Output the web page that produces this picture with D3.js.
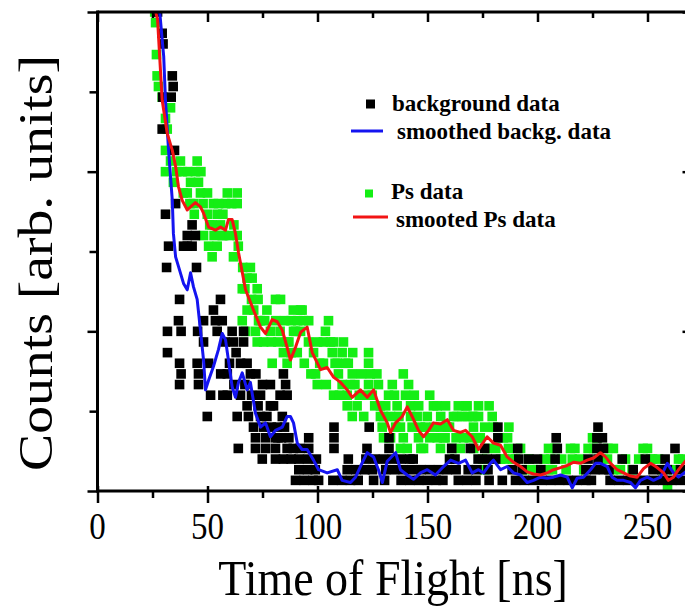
<!DOCTYPE html>
<html><head><meta charset="utf-8">
<script src="https://cdn.jsdelivr.net/npm/d3@7"></script>
<style>body{margin:0;background:#fff}svg{display:block}</style>
</head><body>
<svg id="c" width="685" height="608"></svg>
<script>
// ---- ticks ----
const xTicksMajor = [0, 50, 100, 150, 200, 250];
const xTicksMinor = [25, 75, 125, 175, 225];
const yTicksMajor = [0, 15, 30, 45];
const yTicksMinor = [7.5, 22.5, 37.5];

// ---- legend / titles ----
const xTitle = "Time of Flight [ns]";
const yTitle = "Counts [arb. units]";
const legendLabels = ["background data", "smoothed backg. data", "Ps data", "smooted Ps data"];

// ---- background data [time ns, counts] ----
const bgPoints = [
[27.3,45],[29.4,43],[29.8,42],[29.6,37],[29.4,34],[30.9,26],[31.4,21],[31.8,15],[31.8,13],[32.3,23],
[33.5,37],[34.0,39],[34.4,38],[35.0,32],[35.5,27],[36.8,16],[37.3,18],[37.3,12],[37.3,10],[38.0,15],
[38.0,11],[39.1,23],[40.8,24],[40.8,23],[43.0,25],[43.0,23],[44.5,24],[45.0,21],[45.5,15],[45.3,12],
[45.9,11],[45.9,10],[48.2,16],[48.2,14],[49.9,7],[50.5,12],[51.4,9],[52.7,17],[53.6,16],[54.4,15],
[55.9,18],[56.7,16],[59.0,11],[59.0,9],[61.2,15],[61.8,14],[63.5,7],[64.0,4],[65.0,12],[65.0,9],
[66.4,15],[66.4,14],[68.0,12],[68.6,7],[69.5,11],[70.9,6],[71.8,5],[71.8,4],[74.1,9],[74.1,7],
[74.9,3],[75.5,6],[76.4,5],[76.4,4],[78.6,10],[78.6,8],[80.9,5],[80.9,4],[80.9,3],[81.7,6],
[83.6,5],[84.0,7],[84.5,11],[85.5,10],[86.2,9],[86.2,4],[84.5,3],
[56,11],[57,9],[58,14],[60,12],[62,10],[63,13],[67,10],[68,8],[70,9],[72,11],[73,8],[75,10],
[77,7],[79,6],[80,8],[82,5],[83,9],[85,6],[87,5],[88,3],[89,4],
// count 1 row
[90,1],[94,1],[98,1],[100.5,1],[107,1],[111,1],[115,1],[118.5,1],[125.5,1],[130.5,1],[138,1],[142,1],
[146,1],[150,1],[154,1],[157,1],[164,1],[168,1],[172,1],[178,1],[184,1],[190,1],[194,1],[198,1],[202,1],
[206,1],[210,1],[214,1],[218,1],[222,1],[224.5,1],[233,1],[237,1],[241,1],[245,1],[249,1],[253,1],
[257,1],[261,1],[265,1],
// count 2 row
[91.5,2],[95.5,2],[99,2],[113.5,2],[117.5,2],[121.5,2],[125,2],[131,2],[135,2],[139,2],[143,2],[147,2],
[151,2],[155,2],[159,2],[163,2],[168.5,2],[172.5,2],[177.5,2],[188.5,2],[193,2],[201.5,2],[222,2],
[226,2],[230,2],[232.5,2],[243.5,2],[252.5,2],[256.5,2],[259,2],[265,2],
// count 3 row
[91.5,3],[95.5,3],[99.5,3],[114,3],[122,3],[126,3],[130,3],[134,3],[138,3],[142,3],[143.5,3],[160,3],
[162.5,3],[173,3],[177,3],[181,3],[191.5,3],[196,3],[200,3],[208,3],[223,3],[227.5,3],[238.5,3],
[249,3],[258,3],
// higher counts
[92,4],[96,4],[107.5,4],[122.5,4],[132.5,4],[161,4],[169.5,4],[176,4],[191,4],[209,4],[227,4],[230,4],[262.5,4],
[96,5],[107.5,5],[132.5,5],[182,5],[208.5,5],[227,5],[229.5,5],
[107.5,6],[123.5,6],[182,6],[227.5,6]
];

// ---- Ps data [time ns, counts] ----
const psPoints = [
[26.0,45],[26.4,44],[26.8,41],[27.1,39],[27.7,38],[29.4,37],[33.2,36],[30.9,35],[31.7,34],[30.9,32],
[33.2,31],[30.9,30],[34.5,29],[37.7,31],[38.6,30],[45.3,31],[44.5,30],[42.3,29],[45.9,29],[40.8,28],
[43.6,27],[46.8,28],[52.7,27],[49.9,26],[54.4,26],[52.1,25],[59.0,28],[58.2,27],[63.5,28],[63.5,27],
[57.3,24],[63.5,24],[48.2,24],[50.5,23],[55.9,25],[54.4,23],[56.7,24],[52.1,22],[61.8,22],[69.5,21],
[70.3,20],[65.8,19],[72.6,19],[80.9,18],[83.2,18],[65.8,16],[67.3,15],[68.0,17],[71.8,15],[73.2,16],
[75.5,14],[72.6,14],[76.0,16],[78.6,15],[79.4,12],[82.0,14],[84.5,13],[86.2,12],[87.0,14],[88.0,16],
[89.1,15],[90.0,15],[90.8,13],[92.3,15],[92.3,17],[93.0,17],[93.6,16],[95.9,14],[98.2,13],[99.1,11],
[99.9,10],[102.7,14],[102.7,12],[103.6,15],[105.9,14],[106.7,13],[107.3,14],[107.3,9],[109.0,12],[109.5,11],
[111.2,13],[111.2,10],[111.8,14],[112.7,12],[113.5,9],[113.5,8],[115.0,10],[115.8,11],[115.8,7],[118.0,8],
[123.2,13],[123.2,12],[124.0,11],[123.2,10],[124.9,9],[127.7,10],[128.6,8],[128.6,7],[129.4,6],[130.0,7],
[130.0,5],[132.3,9],[133.2,7],[133.2,5],[135.5,6],[136.2,8],[137.7,6],[137.7,4],[140.0,9],[140.8,4],
[141.4,10],[142.3,8],[142.3,7],[143.0,6],[145.3,7],[145.9,5],[146.8,6],[148.2,4],[149.9,7],[152.7,8],
[154.4,8],[154.4,5],[155.9,6],[155.9,4],[157.3,5],[158.2,8],[159.0,6],[161.8,7],[163.5,7],[165.0,4],
[165.8,7],[166.4,5],[167.3,8],[168.0,8],[168.0,7],[170.3,7],[170.9,6],[170.9,7],[172.6,5],[173.2,8],
[173.2,7],[173.2,5],[174.0,5],[175.0,3],[176.0,2],[179.4,7],[180.0,6],[183.2,3],[184.5,5],[186.4,5],
[186.8,4],[188.6,3],[192.3,4],[205.0,4],[205.9,3],[205.0,2],[206.8,2],[215.0,4],[215.8,3],[225.0,5],
[225.5,4],[227.3,5],[231.8,3],[234.5,4],[234.5,2],[237.7,2],[250.0,4],[251.4,3],[252.3,3],[259.1,0.4],
[264.1,3],
[36,30],[39,28],[41,30],[42,27],[44,26],[47,30],[48,27],[50,28],[51,25],[53,24],[55,27],[57,26],
[60,24],[61,27],[62,25],[64,23],[66,21],[67,19],[68,20],[70,18],[71,17],[73,18],[74,16],[77,17],
[79,14],[81,16],[83,15],[85,16],[86,14],[88,13],[89,17],[91,16],
[94,12],[96,16],[97,11],[100,14],[101,12],[104,10],[105,16],[108,12],[110,9],[114,12],[116,13],[117,10],
[119,9],[120,11],[121,7],[122,9],[126,8],[127,11],[131,8],[134,10],[135,9],[137,7],[139,5],[139,11],
[144,9],[146,8],[147,4],[149,6],[151,5],[151,9],[153,6],[156,7],[158,5],[160,6],[161,4],[163,5],
[164,8],[169,5],[171,4],[176,6],[177,4],[178,8],[181,4],[182,5],[185,3],[187,6],[190,3],[194,2],
[196,3],[198,2],[200,2],[203,3],[208,4],[211,3],[213,2],[217,4],[219,3],[221,2],[223,4],[229,3],
[232,4],[240,3],[243,2],[246,3],[248,4],[255,3],[257,2],[262,2],[266,3]
];

// ---- smoothed background [time ns, counts] ----
const bgSmooth = [
[28.0,46.5],[28.2,45.2],[30.1,40.8],[30.9,36.7],[32.3,32.0],[34.0,27.3],[34.5,24.2],[35.5,22.0],[36.8,21.1],
[39.1,19.5],[40.8,18.9],[42.3,20.5],[43.6,19.2],[45.3,18.0],[46.8,15.1],[48.2,12.3],[49.1,9.5],[50.5,10.4],
[52.7,11.7],[55.0,13.3],[56.7,14.8],[58.2,14.2],[59.5,12.3],[61.2,9.8],[62.7,8.8],[64.1,10.2],[65.8,11.1],
[68.0,9.5],[69.5,10.2],[71.8,7.3],[74.1,6.0],[76.4,6.4],[78.6,5.1],[80.9,5.7],[84.0,6.0],[86.2,7.0],
[87.7,7.0],[89.1,6.4],[90.8,4.5],[93.0,3.9],[95.3,3.9],[98.2,2.9],[100.5,2.0],[104.4,1.7],[109.0,2.0],
[111.2,1.0],[115.0,0.8],[117.3,1.3],[119.5,2.3],[122.6,3.6],[125.5,3.2],[127.7,2.0],[129.5,0.8],[131.7,2.8],
[135.5,3.6],[137.7,2.0],[140.8,1.5],[143.6,1.1],[146.8,1.7],[149.9,2.0],[153.6,1.5],[157.3,2.3],[160.5,2.9],
[164.1,2.6],[167.3,2.9],[170.3,1.7],[173.2,2.0],[175.5,1.7],[178.6,2.6],[180.0,2.9],[183.2,2.0],[186.2,2.3],
[189.1,1.7],[192.3,1.5],[195.3,0.8],[198.2,1.0],[201.4,1.3],[204.4,1.2],[207.3,1.3],[210.5,1.5],[213.5,1.3],
[215.8,0.3],[218.0,1.2],[220.9,1.3],[224.1,2.0],[226.4,2.6],[228.6,2.6],[231.7,2.3],[233.9,1.3],[236.2,1.0],
[239.1,1.0],[242.3,0.8],[244.5,0.3],[246.8,1.0],[249.9,1.3],[252.7,1.0],[255.9,1.3],[259.0,2.6],[261.8,1.7],
[264.1,1.3],[267.3,1.8],[269.5,2.0]
];

// ---- smoothed Ps [time ns, counts] ----
const psSmooth = [
[25.5,46.5],[26.4,45.0],[27.3,44.3],[29.4,36.7],[31.7,33.6],[34.0,32.0],[35.5,30.5],[36.8,28.6],[38.5,27.3],
[40.8,26.4],[42.3,26.7],[44.5,27.1],[46.8,26.7],[48.2,26.1],[50.5,24.8],[53.6,24.5],[55.9,24.8],[58.2,24.5],
[59.5,25.5],[61.2,25.5],[62.7,24.2],[64.1,22.4],[67.3,18.9],[70.9,17.0],[74.1,15.4],[76.4,14.8],[79.4,16.1],
[81.7,15.9],[84.0,15.1],[86.2,13.5],[87.7,12.3],[90.0,13.5],[92.3,14.9],[95.3,15.4],[97.6,13.0],[101.4,11.4],
[104.4,11.6],[107.3,10.7],[110.5,10.2],[113.5,9.5],[115.8,8.8],[119.5,9.5],[122.6,8.8],[125.5,9.5],[128.6,7.6],
[131.7,6.4],[133.2,5.5],[135.5,6.4],[138.5,7.0],[140.8,7.9],[143.0,7.0],[145.9,5.7],[148.2,5.1],[150.5,5.7],
[152.7,6.4],[155.9,6.3],[159.0,6.7],[161.8,5.7],[165.0,5.5],[167.3,5.7],[170.3,5.1],[173.2,3.9],[177.1,5.1],
[180.0,4.5],[183.2,4.3],[186.2,3.2],[189.1,2.7],[192.3,2.3],[195.3,1.8],[198.2,1.6],[201.4,1.5],[204.4,1.7],
[207.3,2.0],[210.5,2.2],[213.5,2.4],[216.4,2.7],[219.5,2.6],[222.6,2.9],[225.5,3.1],[228.6,3.6],[230.9,3.2],
[233.2,2.6],[236.2,2.0],[239.1,1.7],[242.3,1.4],[245.3,1.3],[248.2,2.1],[251.4,2.6],[254.4,2.2],[257.3,1.7],
[259.5,1.0],[261.8,1.3],[264.1,2.0],[266.4,2.6],[269.5,3.4]
];

// ---- drawing ----
const svg = d3.select('#c');
const x = d3.scaleLinear().domain([0, 270]).range([97.5, 691.5]);
const y = d3.scaleLinear().domain([0, 45]).range([491, 12]);
const serif = '"Liberation Serif","Times New Roman",serif';
const colBlack = '#000000', colGreen = '#14ee14', colBlue = '#1414f0', colRed = '#f21414';
const sq = 9.6;

svg.append('defs').append('clipPath').attr('id', 'plotclip')
  .append('rect').attr('x', x(0)).attr('y', y(45)).attr('width', x(270) - x(0)).attr('height', y(0) - y(45));

const plot = svg.append('g').attr('clip-path', 'url(#plotclip)');

plot.append('g').selectAll('rect').data(psPoints).join('rect')
  .attr('x', d => x(d[0]) - sq / 2).attr('y', d => y(d[1]) - sq / 2)
  .attr('width', sq).attr('height', sq).attr('fill', colGreen);

plot.append('g').selectAll('rect').data(bgPoints).join('rect')
  .attr('x', d => x(d[0]) - sq / 2).attr('y', d => y(d[1]) - sq / 2)
  .attr('width', sq).attr('height', sq).attr('fill', colBlack);

const line = d3.line().x(d => x(d[0])).y(d => y(d[1]));
plot.append('path').datum(bgSmooth).attr('d', line).attr('fill', 'none')
  .attr('stroke', colBlue).attr('stroke-width', 3).attr('stroke-linejoin', 'round');
plot.append('path').datum(psSmooth).attr('d', line).attr('fill', 'none')
  .attr('stroke', colRed).attr('stroke-width', 3).attr('stroke-linejoin', 'round');

// ---- axes ----
function clean(g, w) {
  g.select('path.domain').remove();
  g.selectAll('text').remove();
  g.selectAll('line').attr('stroke', '#000').attr('stroke-width', w);
}
svg.append('g').attr('transform', `translate(0,${y(0)})`)
  .call(d3.axisBottom(x).tickValues(xTicksMajor).tickSize(12)).call(g => clean(g, 2.5));
svg.append('g').attr('transform', `translate(0,${y(0)})`)
  .call(d3.axisTop(x).tickValues(xTicksMajor).tickSize(5)).call(g => clean(g, 2.5));
svg.append('g').attr('transform', `translate(0,${y(0)})`)
  .call(d3.axisBottom(x).tickValues(xTicksMinor).tickSize(7)).call(g => clean(g, 2.5));
svg.append('g').attr('transform', `translate(0,${y(45)})`)
  .call(d3.axisBottom(x).tickValues(xTicksMajor).tickSize(10)).call(g => clean(g, 2.5));
svg.append('g').attr('transform', `translate(0,${y(45)})`)
  .call(d3.axisBottom(x).tickValues(xTicksMinor).tickSize(6)).call(g => clean(g, 2.5));
svg.append('g').attr('transform', `translate(${x(0)},0)`)
  .call(d3.axisLeft(y).tickValues(yTicksMajor).tickSize(10)).call(g => clean(g, 2.5));
svg.append('g').attr('transform', `translate(${x(0)},0)`)
  .call(d3.axisLeft(y).tickValues(yTicksMinor).tickSize(8)).call(g => clean(g, 2.5));
svg.append('g').attr('transform', `translate(${x(270)},0)`)
  .call(d3.axisLeft(y).tickValues(yTicksMajor).tickSize(9)).call(g => clean(g, 2.5));
svg.append('g').attr('transform', `translate(${x(270)},0)`)
  .call(d3.axisLeft(y).tickValues(yTicksMinor).tickSize(6)).call(g => clean(g, 2.5));

const frame = svg.append('g').attr('stroke', '#000').attr('stroke-width', 3).attr('fill', 'none');
frame.append('line').attr('x1', x(0)).attr('x2', x(0)).attr('y1', y(45) - 1.5).attr('y2', y(0) + 1.5);
frame.append('line').attr('x1', x(270)).attr('x2', x(270)).attr('y1', y(45) - 1.5).attr('y2', y(0) + 1.5);
frame.append('line').attr('x1', x(0)).attr('x2', x(270)).attr('y1', y(45)).attr('y2', y(45));
frame.append('line').attr('x1', x(0)).attr('x2', x(270)).attr('y1', y(0)).attr('y2', y(0));

svg.append('g').selectAll('text').data(xTicksMajor).join('text')
  .attr('transform', d => `translate(${x(d)},539) scale(1,1.17)`)
  .attr('text-anchor', 'middle').style('font-family', serif).style('font-size', '33px')
  .attr('fill', '#000').text(d => d);

svg.append('text').attr('transform', 'translate(393,595) scale(1,1.09)')
  .attr('text-anchor', 'middle').style('font-family', serif).style('font-size', '46px')
  .attr('fill', '#000').text(xTitle);
svg.append('text').attr('transform', 'translate(52,263) rotate(-90) scale(1.16,1)')
  .attr('text-anchor', 'middle').style('font-family', serif).style('font-size', '48px')
  .attr('fill', '#000').text(yTitle);

const leg = svg.append('g').style('font-family', serif).style('font-size', '23px').style('font-weight', 'bold');
leg.append('rect').attr('x', 366).attr('y', 99.5).attr('width', 9).attr('height', 9).attr('fill', colBlack);
leg.append('text').attr('x', 392).attr('y', 111).text(legendLabels[0]);
leg.append('line').attr('x1', 351).attr('x2', 383).attr('y1', 131).attr('y2', 131).attr('stroke', colBlue).attr('stroke-width', 3);
leg.append('text').attr('x', 397).attr('y', 138.5).text(legendLabels[1]);
leg.append('rect').attr('x', 365).attr('y', 189.5).attr('width', 8).attr('height', 8).attr('fill', colGreen);
leg.append('text').attr('x', 391).attr('y', 198.5).text(legendLabels[2]);
leg.append('line').attr('x1', 353).attr('x2', 388).attr('y1', 217).attr('y2', 217).attr('stroke', colRed).attr('stroke-width', 3);
leg.append('text').attr('x', 396).attr('y', 226.5).text(legendLabels[3]);
</script>
</body></html>
